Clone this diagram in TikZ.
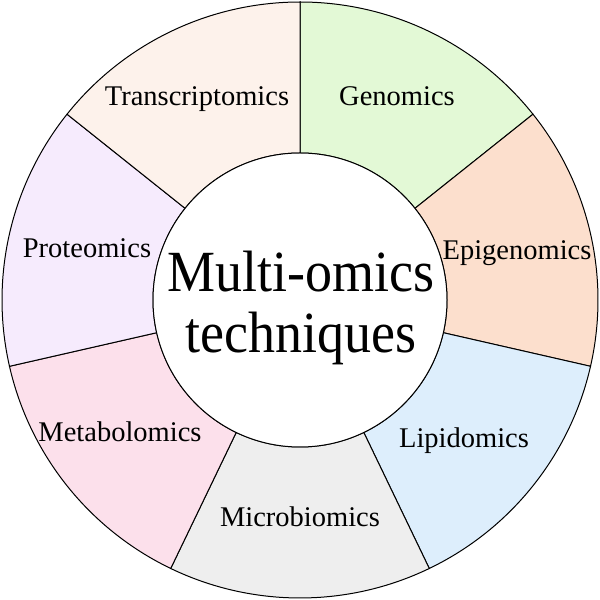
\documentclass[tikz,border=0pt]{standalone}
\usepackage{fontspec}
\setmainfont{Liberation Serif}
\definecolor{cgen}{HTML}{E3F9D6}
\definecolor{cepi}{HTML}{FCDFCD}
\definecolor{clip}{HTML}{DDEEFC}
\definecolor{cmic}{HTML}{EEEEEE}
\definecolor{cmet}{HTML}{FCE0EB}
\definecolor{cpro}{HTML}{F6EBFD}
\definecolor{ctra}{HTML}{FDF2EB}
\begin{document}
\begin{tikzpicture}[x=1pt,y=1pt,
  sector/.style={draw=black,line width=1pt},
  lbl/.style={font=\fontsize{28.5}{30}\selectfont,inner sep=0pt,anchor=base},
  ttl/.style={font=\fontsize{54}{60}\selectfont,inner sep=0pt,anchor=base}]
\useasboundingbox (0,0) rectangle (600,600);
\fill[white] (0,0) rectangle (600,600);
\def\Ro{298}
\def\Ri{147}
\foreach \col [count=\i from 0] in {cgen,cepi,clip,cmic,cmet,cpro,ctra} {
  \pgfmathsetmacro\a{90-\i*360/7}
  \pgfmathsetmacro\b{\a-360/7}
  \filldraw[sector,fill=\col] ([shift={(300,300)}]\a:\Ri) -- ([shift={(300,300)}]\a:\Ro)
    arc[start angle=\a,end angle=\b,radius=\Ro]
    -- ([shift={(300,300)}]\b:\Ri)
    arc[start angle=\b,end angle=\a,radius=\Ri] -- cycle;
}
\draw[sector,fill=white] (300,300) circle[radius=\Ri];
\node[lbl] (tra) at (197,494) {Transcriptomics};
\node[lbl] (gen) at (397,494) {Genomics};
\node[lbl] (epi) at (517,340) {Epigenomics};
\node[lbl] (pro) at (87,342) {Proteomics};
\node[lbl] (met) at (120,158) {Metabolomics};
\node[lbl] (mic) at (300,73) {Microbiomics};
\node[lbl] (lip) at (464,152) {Lipidomics};
\node[ttl] (t1) at (301,308) {\scalebox{1}[1.08]{Multi-omics}};
\node[ttl] (t2) at (301,247) {\scalebox{1}[1.08]{techniques}};
\end{tikzpicture}
\end{document}
